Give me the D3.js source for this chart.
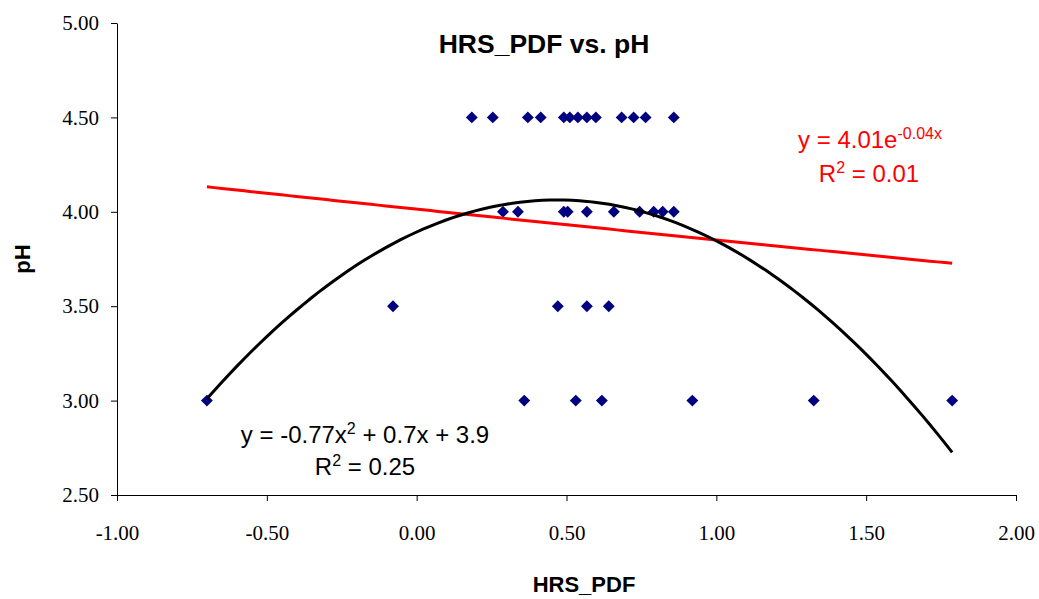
<!DOCTYPE html>
<html>
<head>
<meta charset="utf-8">
<script src="https://cdn.jsdelivr.net/npm/d3@7"></script>
<style>
  body { margin: 0; background: #fff; }
  .tick text { font-family: "Liberation Serif", "Times New Roman", serif; font-size: 21px; fill: #000; }
  .eq { font-family: "Liberation Sans", Arial, sans-serif; font-size: 24px; }
</style>
</head>
<body>
<div id="chart"></div>
<script>
// HRS_PDF values, grouped by pH level
const hrsPdf = [
  0.184, 0.254, 0.371, 0.414, 0.491, 0.511, 0.538, 0.568, 0.598, 0.684, 0.724, 0.764, 0.858,
  0.288, 0.338, 0.491, 0.504, 0.568, 0.658, 0.744, 0.791, 0.821, 0.858,
  -0.079, 0.471, 0.568, 0.641,
  -0.70, 0.359, 0.531, 0.618, 0.920, 1.325, 1.787
]
const pH = [
  4.5, 4.5, 4.5, 4.5, 4.5, 4.5, 4.5, 4.5, 4.5, 4.5, 4.5, 4.5, 4.5,
  4.0, 4.0, 4.0, 4.0, 4.0, 4.0, 4.0, 4.0, 4.0, 4.0,
  3.5, 3.5, 3.5, 3.5,
  3.0, 3.0, 3.0, 3.0, 3.0, 3.0, 3.0
]
const xTicks = [-1, -0.5, 0, 0.5, 1, 1.5, 2]
const yTicks = [2.5, 3, 3.5, 4, 4.5, 5]

// trendline coefficients (shown rounded in the labels)
const polyCoef = [3.893, 0.723, -0.77]   // c0 + c1 x + c2 x^2
const expCoef = [4.014, -0.0415]         // a * e^(b x)

const data = hrsPdf.map((x, i) => ({x: x, y: pH[i]}))

const width = 1039
const height = 599
const margin = {top: 23, right: 23, bottom: 104, left: 117}

const svg = d3.select("#chart")
    .append("svg")
    .attr("width", width)
    .attr("height", height)

const x = d3.scaleLinear()
    .domain([-1, 2])
    .range([margin.left, width - margin.right])

const y = d3.scaleLinear()
    .domain([2.5, 5])
    .range([height - margin.bottom, margin.top])

const fmt = d => d3.format(".2f")(d).replace("\u2212", "-")

const xmin = d3.min(hrsPdf), xmax = d3.max(hrsPdf)
const xs = d3.range(0, 101).map(i => xmin + (xmax - xmin) * i / 100)

// axes
svg.append("g")
    .attr("transform", `translate(0,${height - margin.bottom})`)
    .call(d3.axisBottom(x).tickValues(xTicks).tickFormat(fmt).tickSize(6).tickSizeOuter(0).tickPadding(24))
    .call(g => g.selectAll("line, path").attr("stroke", "#000"))

svg.append("g")
    .attr("transform", `translate(${margin.left},0)`)
    .call(d3.axisLeft(y).tickValues(yTicks).tickFormat(fmt).tickSize(6).tickSizeOuter(0).tickPadding(12))
    .call(g => g.selectAll("line, path").attr("stroke", "#000"))

// points
const diamond = d3.symbol().type(d3.symbolDiamond2).size(90)
svg.append("g")
    .attr("fill", "#000080")
    .selectAll("path")
    .data(data)
    .join("path")
    .attr("d", diamond)
    .attr("transform", d => `translate(${x(d.x)},${y(d.y)})`)

// trendlines
const line = d3.line().x(d => x(d[0])).y(d => y(d[1]))
svg.append("path")
    .datum(xs.map(v => [v, expCoef[0] * Math.exp(expCoef[1] * v)]))
    .attr("fill", "none")
    .attr("stroke", "#ff0000")
    .attr("stroke-width", 3)
    .attr("d", line)

svg.append("path")
    .datum(xs.map(v => [v, polyCoef[0] + polyCoef[1] * v + polyCoef[2] * v * v]))
    .attr("fill", "none")
    .attr("stroke", "#000")
    .attr("stroke-width", 3)
    .attr("d", line)

// titles
svg.append("text")
    .attr("x", 544).attr("y", 53)
    .attr("text-anchor", "middle")
    .attr("font-family", "Liberation Sans, Arial, sans-serif")
    .attr("font-weight", "bold")
    .attr("font-size", 26.5)
    .text("HRS_PDF vs. pH")

svg.append("text")
    .attr("x", 584).attr("y", 592)
    .attr("text-anchor", "middle")
    .attr("font-family", "Liberation Sans, Arial, sans-serif")
    .attr("font-weight", "bold")
    .attr("font-size", 22)
    .text("HRS_PDF")

svg.append("text")
    .attr("transform", "translate(30,259) rotate(-90)")
    .attr("text-anchor", "middle")
    .attr("font-family", "Liberation Sans, Arial, sans-serif")
    .attr("font-weight", "bold")
    .attr("font-size", 22)
    .text("pH")

// trendline labels
const blackEq = svg.append("text").attr("class", "eq").attr("fill", "#000").attr("text-anchor", "middle")
blackEq.append("tspan").attr("x", 365).attr("y", 443).text("y = -0.77x")
blackEq.append("tspan").attr("dy", -9).attr("font-size", 16).text("2")
blackEq.append("tspan").attr("dy", 9).text(" + 0.7x + 3.9")
const blackR = svg.append("text").attr("class", "eq").attr("fill", "#000").attr("text-anchor", "middle")
blackR.append("tspan").attr("x", 365).attr("y", 475).text("R")
blackR.append("tspan").attr("dy", -9).attr("font-size", 16).text("2")
blackR.append("tspan").attr("dy", 9).text(" = 0.25")

const redEq = svg.append("text").attr("class", "eq").attr("fill", "#ff0000").attr("text-anchor", "middle")
redEq.append("tspan").attr("x", 870).attr("y", 148).text("y = 4.01e")
redEq.append("tspan").attr("dy", -9).attr("font-size", 16).text("-0.04x")
const redR = svg.append("text").attr("class", "eq").attr("fill", "#ff0000").attr("text-anchor", "middle")
redR.append("tspan").attr("x", 869).attr("y", 182).text("R")
redR.append("tspan").attr("dy", -9).attr("font-size", 16).text("2")
redR.append("tspan").attr("dy", 9).text(" = 0.01")
</script>
</body>
</html>
